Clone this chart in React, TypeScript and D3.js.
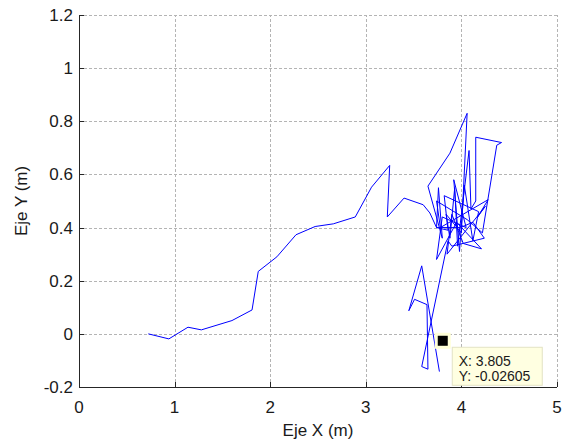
import React, { useRef, useEffect } from "react";
import * as d3 from "d3";

// recorded trajectory (metres)
const trackX = [
  0.725, 0.94, 1.14, 1.28, 1.6, 1.81, 1.875, 2.07, 2.27, 2.47, 2.66, 2.89, 3.06, 3.25, 3.225, 3.4, 3.6,
  3.67, 3.74, 3.76, 3.8, 3.65, 3.88, 4.06, 4.0, 3.84, 3.88, 3.93, 3.96, 4.08, 4.1, 4.15, 4.15, 4.42,
  4.37, 4.22, 4.06, 3.74, 3.78, 4.28, 4.17, 4.25, 3.85, 3.9, 4.02, 4.21, 3.95, 3.74, 3.8, 4.05, 3.92,
  3.98, 4.03, 4.12, 4.18, 3.82, 3.86, 3.74, 3.99, 4.12, 4.24, 3.9, 3.86,
  3.585, 3.65, 3.64, 3.51, 3.45, 3.585, 3.77,
];
const trackY = [
  0.0, -0.019, 0.025, 0.015, 0.05, 0.09, 0.235, 0.29, 0.373, 0.404, 0.414, 0.44, 0.552, 0.634, 0.44,
  0.511, 0.486, 0.455, 0.4, 0.55, 0.36, 0.556, 0.68, 0.83, 0.38, 0.45, 0.36, 0.55, 0.33, 0.69, 0.47,
  0.5, 0.74, 0.72, 0.71, 0.38, 0.43, 0.5, 0.4, 0.505, 0.44, 0.48, 0.3, 0.45, 0.34, 0.32, 0.42, 0.28,
  0.44, 0.4, 0.58, 0.31, 0.56, 0.35, 0.46, 0.52, 0.39, 0.4, 0.4, 0.42, 0.36, 0.33, 0.35,
  -0.123, -0.133, 0.11, 0.13, 0.087, 0.256, -0.142,
];

const xTicks = [0, 1, 2, 3, 4, 5];
const yTicks = [-0.2, 0, 0.2, 0.4, 0.6, 0.8, 1, 1.2];

const tipPoint = { x: 3.805, y: -0.02605 };

const width = 569;
const height = 440;
const margin = { top: 15, right: 12, bottom: 53, left: 79 };

const App = () => {
  const svgRef = useRef<SVGSVGElement>(null);

  useEffect(() => {
    if (!svgRef.current) return;
    const svg = d3.select(svgRef.current);
    svg.selectAll("*").remove();

    const x = d3.scaleLinear([0, 5], [margin.left, width - margin.right]);
    const y = d3.scaleLinear([-0.2, 1.2], [height - margin.bottom, margin.top]);
    const font = "'Liberation Sans', Arial, sans-serif";

    svg.append("rect").attr("width", width).attr("height", height).attr("fill", "white");

    // grid
    const grid = svg.append("g").attr("stroke", "#b4b4b4").attr("stroke-dasharray", "3,2").attr("stroke-width", 1);
    grid
      .selectAll("line.gx")
      .data(xTicks.slice(1))
      .join("line")
      .attr("x1", (d) => Math.round(x(d)) + 0.5)
      .attr("x2", (d) => Math.round(x(d)) + 0.5)
      .attr("y1", y(-0.2))
      .attr("y2", y(1.2));
    grid
      .selectAll("line.gy")
      .data(yTicks.slice(1))
      .join("line")
      .attr("y1", (d) => Math.round(y(d)) + 0.5)
      .attr("y2", (d) => Math.round(y(d)) + 0.5)
      .attr("x1", x(0))
      .attr("x2", x(5));

    // axes lines
    const ax = svg.append("g").attr("stroke", "#262626").attr("stroke-width", 1);
    ax.append("line")
      .attr("x1", Math.round(x(0)) + 0.5)
      .attr("x2", Math.round(x(0)) + 0.5)
      .attr("y1", y(1.2))
      .attr("y2", y(-0.2));
    ax.append("line")
      .attr("x1", x(0))
      .attr("x2", x(5))
      .attr("y1", Math.round(y(-0.2)) + 0.5)
      .attr("y2", Math.round(y(-0.2)) + 0.5);
    ax.selectAll("line.tx")
      .data(xTicks)
      .join("line")
      .attr("x1", (d) => Math.round(x(d)) + 0.5)
      .attr("x2", (d) => Math.round(x(d)) + 0.5)
      .attr("y1", y(-0.2))
      .attr("y2", y(-0.2) - 5);
    ax.selectAll("line.ty")
      .data(yTicks)
      .join("line")
      .attr("y1", (d) => Math.round(y(d)) + 0.5)
      .attr("y2", (d) => Math.round(y(d)) + 0.5)
      .attr("x1", x(0))
      .attr("x2", x(0) + 5);

    // tick labels
    svg
      .append("g")
      .selectAll("text")
      .data(xTicks)
      .join("text")
      .attr("x", (d) => x(d))
      .attr("y", y(-0.2) + 26)
      .attr("text-anchor", "middle")
      .attr("font-family", font)
      .attr("font-size", 17)
      .attr("fill", "#1a1a1a")
      .text((d) => `${d}`);
    svg
      .append("g")
      .selectAll("text")
      .data(yTicks)
      .join("text")
      .attr("x", x(0) - 6)
      .attr("y", (d) => y(d) + 6)
      .attr("text-anchor", "end")
      .attr("font-family", font)
      .attr("font-size", 17)
      .attr("fill", "#1a1a1a")
      .text((d) => `${d}`);

    // axis titles
    svg
      .append("text")
      .attr("x", (x(0) + x(5)) / 2)
      .attr("y", 436)
      .attr("text-anchor", "middle")
      .attr("font-family", font)
      .attr("font-size", 17)
      .attr("fill", "#1a1a1a")
      .text("Eje X (m)");
    svg
      .append("text")
      .attr("transform", `translate(27, ${y(0.5)}) rotate(-90)`)
      .attr("text-anchor", "middle")
      .attr("font-family", font)
      .attr("font-size", 17)
      .attr("fill", "#1a1a1a")
      .text("Eje Y (m)");

    // trajectory
    const pts = trackX.map((v, i) => [v, trackY[i]] as [number, number]);
    const line = d3
      .line<[number, number]>()
      .x((d) => x(d[0]))
      .y((d) => y(d[1]));
    svg
      .append("path")
      .attr("d", line(pts))
      .attr("fill", "none")
      .attr("stroke", "#0000ff")
      .attr("stroke-width", 1)
      .attr("stroke-linejoin", "round");

    // data tip
    const tx = x(tipPoint.x);
    const ty = y(tipPoint.y);
    svg.append("rect").attr("x", tx - 8).attr("y", ty - 8).attr("width", 16).attr("height", 16).attr("fill", "#ffffd8");
    svg.append("rect").attr("x", tx - 5).attr("y", ty - 5).attr("width", 10).attr("height", 10).attr("fill", "black");
    svg
      .append("rect")
      .attr("x", tx + 9.5)
      .attr("y", ty + 6.5)
      .attr("width", 90)
      .attr("height", 38)
      .attr("fill", "#ffffe1")
      .attr("stroke", "#e3e3c4");
    const tip = svg
      .append("text")
      .attr("font-family", font)
      .attr("font-size", 14)
      .attr("fill", "#1a1a1a");
    tip.append("tspan").attr("x", tx + 16).attr("y", ty + 25).text(`X: ${tipPoint.x}`);
    tip.append("tspan").attr("x", tx + 16).attr("y", ty + 40).text(`Y: ${tipPoint.y}`);
  }, []);

  return (
    <div style={{ position: "absolute", left: 0, top: 0 }}>
      <svg ref={svgRef} width={width} height={height} style={{ display: "block" }} />
    </div>
  );
};

export default App;
